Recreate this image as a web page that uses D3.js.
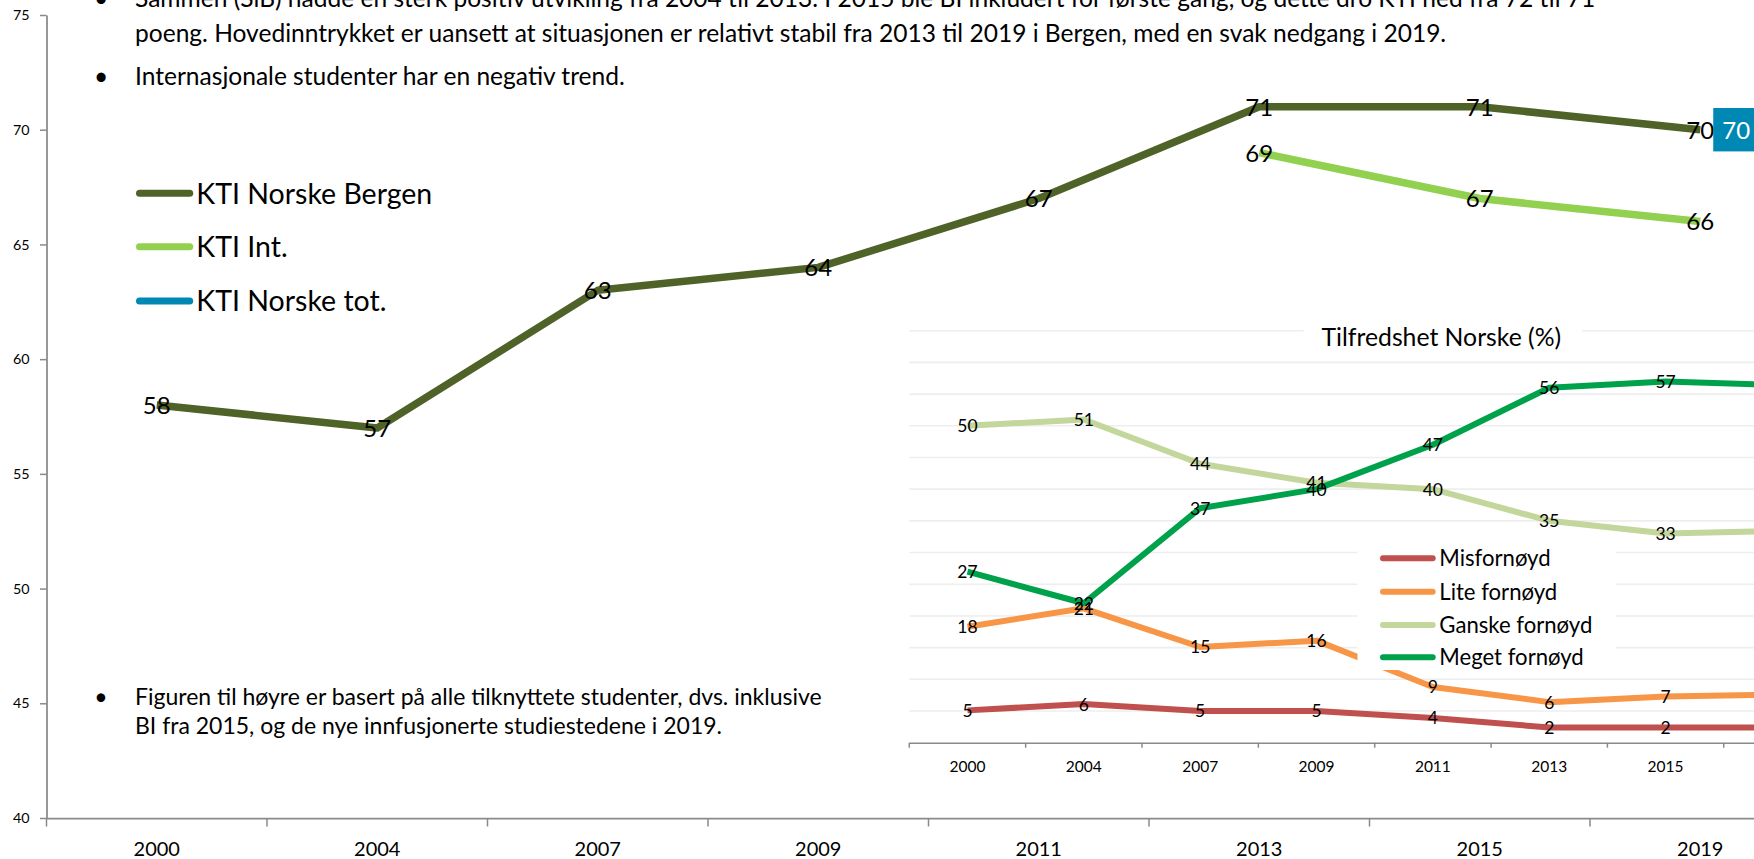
<!DOCTYPE html>
<html>
<head>
<meta charset="utf-8">
<script src="https://cdn.jsdelivr.net/npm/d3@7"></script>
<style>
  html, body { margin: 0; padding: 0; background: #fff; }
  svg { display: block; font-family: Lato, "Open Sans", sans-serif; }
</style>
</head>
<body>
<svg id="chart" width="1754" height="859"></svg>
<script>
// ---------- DATA ----------
const years = ["2000", "2004", "2007", "2009", "2011", "2013", "2015", "2019"];
const ktiBergen = [58, 57, 63, 64, 67, 71, 71, 70];
const ktiInt = [null, null, null, null, null, 69, 67, 66];
const ktiTot = [null, null, null, null, null, null, null, 70];
const mainYTicks = [40, 45, 50, 55, 60, 65, 70, 75];
const mainSeriesNames = ["KTI Norske Bergen", "KTI Int.", "KTI Norske tot."];

const insetTitle = "Tilfredshet Norske (%)";
const misfornoyd = [5.1, 6.1, 5, 5, 3.9, 2.4, 2.4, 2.4];
const liteFornoyd = [18.3, 21.2, 15.1, 16.1, 8.8, 6.4, 7.3, 7.6];
const ganskeFornoyd = [50, 51, 44, 41, 40, 35, 33, 33.4];
const megetFornoyd = [27, 22, 37, 40, 47, 56, 57, 56.4];
const insetSeriesNames = ["Misfornøyd", "Lite fornøyd", "Ganske fornøyd", "Meget fornøyd"];
const insetGridTicks = [5, 10, 15, 20, 25, 30, 35, 40, 45, 50, 55, 60, 65];

const topText = [
  "Sammen (SiB) hadde en sterk positiv utvikling fra 2004 til 2013. I 2015 ble BI inkludert for første gang, og dette dro KTI ned fra 72 til 71",
  "poeng. Hovedinntrykket er uansett at situasjonen er relativt stabil fra 2013 til 2019 i Bergen, med en svak nedgang i 2019.",
  "Internasjonale studenter har en negativ trend."
];
const bottomText = [
  "Figuren til høyre er basert på alle tilknyttete studenter, dvs. inklusive",
  "BI fra 2015, og de nye innfusjonerte studiestedene i 2019."
];

// ---------- STYLE ----------
const mainColors = ["#4f6228", "#92d050", "#0088b5"];
const insetColors = ["#c0504d", "#f79646", "#c3d69b", "#00a14b"];
const axisColor = "#8a8a8a";

const svg = d3.select("#chart");
const W = 1754, H = 859;

function fitWidth(sel, target) {
  const w = sel.node().getComputedTextLength();
  const fs = parseFloat(sel.attr("font-size"));
  const nfs = fs * target / w;
  sel.attr("font-size", nfs);
  return nfs;
}

// ---------- MAIN CHART ----------
const xMain = d3.scaleBand().domain(years).range([46.5, 46.5 + 8 * 220.5]).padding(0);
const yMain = d3.scaleLinear().domain([40, 75]).range([818, 15]);
const cx = c => xMain(c) + xMain.bandwidth() / 2;

// y axis
const yAxisG = svg.append("g").attr("transform", `translate(${xMain.range()[0]},0)`)
  .call(d3.axisLeft(yMain).tickValues(mainYTicks).tickSize(6.5).tickSizeOuter(0).tickPadding(10.5));
yAxisG.select(".domain").attr("stroke", axisColor).attr("stroke-width", 1.75);
yAxisG.selectAll(".tick line").attr("stroke", axisColor).attr("stroke-width", 1.5);
yAxisG.selectAll(".tick text").attr("font-size", 14.3).attr("fill", "#000").attr("font-family", "Lato");

// x axis
const xAxisG = svg.append("g").attr("transform", `translate(0,${yMain.range()[0]})`)
  .call(d3.axisBottom(xMain).tickSize(0).tickSizeOuter(0).tickPadding(24));
xAxisG.select(".domain").attr("stroke", axisColor).attr("stroke-width", 1.75);
xAxisG.selectAll(".tick text").attr("font-size", 20).attr("fill", "#000").attr("font-family", "Lato").attr("dy", "0.36em").attr("y", 31);
xAxisG.selectAll(".boundary").data(years.concat(["end"])).enter().append("line")
  .attr("x1", (d, i) => i < years.length ? xMain(d) : xMain(years[years.length - 1]) + xMain.bandwidth())
  .attr("x2", (d, i) => i < years.length ? xMain(d) : xMain(years[years.length - 1]) + xMain.bandwidth())
  .attr("y1", 0).attr("y2", 8.5).attr("stroke", axisColor).attr("stroke-width", 1.5);

// lines
const mainSeries = [ktiBergen, ktiInt, ktiTot];
const lineMain = d3.line().defined(d => d.v != null).x(d => cx(d.c)).y(d => yMain(d.v));
mainSeries.forEach((s, i) => {
  const pts = years.map((c, j) => ({ c, v: s[j] }));
  svg.append("path").datum(pts).attr("d", lineMain).attr("fill", "none")
    .attr("stroke", mainColors[i]).attr("stroke-width", 7.5)
    .attr("stroke-linejoin", "round").attr("stroke-linecap", "butt");
});
// labels (centered)
[ktiBergen, ktiInt].forEach(s => {
  svg.append("g").selectAll("text").data(years.map((c, j) => ({ c, v: s[j] })).filter(d => d.v != null))
    .enter().append("text")
    .attr("x", d => cx(d.c)).attr("y", d => yMain(d.v)).attr("dy", "0.37em")
    .attr("text-anchor", "middle").attr("font-size", 24).attr("fill", "#000")
    .text(d => d3.format(".0f")(d.v));
});
// KTI Norske tot label (right, with fill)
years.forEach((c, j) => {
  if (ktiTot[j] == null) return;
  const px = cx(c) + 13, py = yMain(ktiTot[j]);
  const g = svg.append("g");
  const t = g.append("text").attr("x", px + 9).attr("y", py).attr("dy", "0.37em")
    .attr("font-size", 24).attr("fill", "#fff").text(d3.format(".0f")(ktiTot[j]));
  const w = t.node().getComputedTextLength();
  g.insert("rect", "text").attr("x", px).attr("y", py - 21.7).attr("width", w + 18).attr("height", 43.4)
    .attr("fill", mainColors[2]);
});

// main legend
const mainLegY = [193.3, 246.7, 301];
const mainLeg = svg.append("g");
let legFs = null;
mainSeriesNames.forEach((n, i) => {
  mainLeg.append("line").attr("x1", 139.5).attr("x2", 189.7).attr("y1", mainLegY[i]).attr("y2", mainLegY[i])
    .attr("stroke", mainColors[i]).attr("stroke-width", 7).attr("stroke-linecap", "round");
  const t = mainLeg.append("text").attr("x", 196.3).attr("y", mainLegY[i]).attr("dy", "0.36em")
    .attr("font-size", legFs || 30).attr("fill", "#000").text(n);
  if (i === 0) legFs = fitWidth(t, 236);
});

// ---------- TEXT BLOCKS ----------
const topBase = [6.7, 42, 85];
let topFs = null;
const topG = svg.append("g");
[1, 0, 2].forEach(i => {
  const t = topG.append("text").attr("x", 135).attr("y", topBase[i]).attr("font-size", topFs || 24)
    .attr("fill", "#000").text(topText[i]);
  if (topFs == null) topFs = fitWidth(t, 1312);
});
[0, 2].forEach(i => {
  topG.append("text").attr("x", 101).attr("y", topBase[i]).attr("text-anchor", "middle")
    .attr("font-size", topFs).attr("fill", "#000").text("•");
});
const botBase = [704.5, 733.5];
let botFs = null;
const botG = svg.append("g");
[0, 1].forEach(i => {
  const t = botG.append("text").attr("x", 135).attr("y", botBase[i]).attr("font-size", botFs || 18)
    .attr("fill", "#000").text(bottomText[i]);
  if (botFs == null) botFs = fitWidth(t, 687);
});
botG.append("text").attr("x", 101).attr("y", botBase[0]).attr("text-anchor", "middle")
  .attr("font-size", botFs).attr("fill", "#000").text("•");

// ---------- INSET CHART ----------
const xIn = d3.scaleBand().domain(years).range([909.3, 909.3 + 8 * 116.35]).padding(0);
const yIn = d3.scaleLinear().domain([0, 65]).range([742.7, 330.7]);
const icx = c => xIn(c) + xIn.bandwidth() / 2;
const inset = svg.append("g");
inset.append("rect").attr("x", 900).attr("y", 312).attr("width", W - 900).attr("height", 480).attr("fill", "#fff");

// gridlines
inset.append("g").selectAll("line").data(insetGridTicks).enter().append("line")
  .attr("x1", xIn.range()[0]).attr("x2", W + 10)
  .attr("y1", d => yIn(d)).attr("y2", d => yIn(d))
  .attr("stroke", "#eeeeee").attr("stroke-width", 1.6);

// x axis
const inXAxis = inset.append("g").attr("transform", `translate(0,${yIn.range()[0]})`)
  .call(d3.axisBottom(xIn).tickSize(0).tickSizeOuter(0));
inXAxis.select(".domain").attr("stroke", axisColor).attr("stroke-width", 1.5);
inXAxis.selectAll(".tick text").attr("font-size", 15.5).attr("fill", "#000").attr("font-family", "Lato")
  .attr("y", 24).attr("dy", "0.36em");
inXAxis.selectAll(".boundary").data(years.concat(["end"])).enter().append("line")
  .attr("x1", (d, i) => i < years.length ? xIn(d) : xIn(years[years.length - 1]) + xIn.bandwidth())
  .attr("x2", (d, i) => i < years.length ? xIn(d) : xIn(years[years.length - 1]) + xIn.bandwidth())
  .attr("y1", 0).attr("y2", 5).attr("stroke", axisColor).attr("stroke-width", 1.5);

// title
inset.append("rect").attr("x", 1303.6).attr("y", 318).attr("width", 1582 - 1303.6).attr("height", 36).attr("fill", "#fff");
const title = inset.append("text").attr("x", 1441.3).attr("y", 337.5).attr("dy", "0.36em")
  .attr("text-anchor", "middle").attr("font-size", 24).attr("fill", "#000").text(insetTitle);
fitWidth(title, 239.7);

// lines
const insetSeries = [misfornoyd, liteFornoyd, ganskeFornoyd, megetFornoyd];
const lineIn = d3.line().x(d => icx(d.c)).y(d => yIn(d.v));
insetSeries.forEach((s, i) => {
  const pts = years.map((c, j) => ({ c, v: s[j] }));
  inset.append("path").datum(pts).attr("d", lineIn).attr("fill", "none")
    .attr("stroke", insetColors[i]).attr("stroke-width", 6)
    .attr("stroke-linejoin", "round");
});
insetSeries.forEach(s => {
  inset.append("g").selectAll("text").data(years.map((c, j) => ({ c, v: s[j] })))
    .enter().append("text")
    .attr("x", d => icx(d.c)).attr("y", d => yIn(d.v)).attr("dy", "0.37em")
    .attr("text-anchor", "middle").attr("font-size", 17.5).attr("fill", "#000")
    .text(d => d3.format(".0f")(d.v));
});

// inset legend
inset.append("rect").attr("x", 1357.5).attr("y", 536).attr("width", 1616 - 1357.5).attr("height", 134).attr("fill", "#fff");
const inLegY = [558.3, 591.7, 625, 657.3];
let inLegFs = null;
insetSeriesNames.forEach((n, i) => {
  inset.append("line").attr("x1", 1383).attr("x2", 1432.7).attr("y1", inLegY[i]).attr("y2", inLegY[i])
    .attr("stroke", insetColors[i]).attr("stroke-width", 6).attr("stroke-linecap", "round");
  const t = inset.append("text").attr("x", 1439.3).attr("y", inLegY[i]).attr("dy", "0.36em")
    .attr("font-size", inLegFs || 22).attr("fill", "#000").text(n);
  if (inLegFs == null) inLegFs = fitWidth(t, 111.3);
});
</script>
</body>
</html>
